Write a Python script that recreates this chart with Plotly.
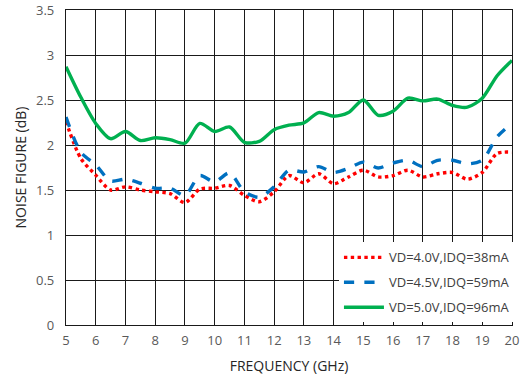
import plotly.graph_objects as go

freq = [5, 5.5, 6, 6.5, 7, 7.5, 8, 8.5, 9, 9.5, 10, 10.5, 11, 11.5, 12, 12.5, 13, 13.5, 14, 14.5, 15,
        15.5, 16, 16.5, 17, 17.5, 18, 18.5, 19, 19.5, 20]

nf_40 = [2.26, 1.85, 1.665, 1.50, 1.535, 1.50, 1.48, 1.46, 1.36, 1.51, 1.52, 1.55, 1.44, 1.37, 1.48, 1.66,
         1.58, 1.68, 1.57, 1.645, 1.72, 1.645, 1.66, 1.72, 1.645, 1.68, 1.695, 1.62, 1.695, 1.905, 1.92]
nf_45 = [2.31, 1.92, 1.78, 1.60, 1.62, 1.575, 1.52, 1.52, 1.44, 1.66, 1.59, 1.69, 1.48, 1.42, 1.535, 1.72,
         1.70, 1.76, 1.695, 1.74, 1.81, 1.745, 1.80, 1.83, 1.76, 1.83, 1.83, 1.79, 1.83, 2.09, 2.24]
nf_50 = [2.87, 2.53, 2.24, 2.07, 2.15, 2.05, 2.08, 2.06, 2.02, 2.24, 2.15, 2.20, 2.03, 2.04, 2.17, 2.22,
         2.245, 2.36, 2.32, 2.36, 2.50, 2.33, 2.375, 2.52, 2.49, 2.51, 2.44, 2.42, 2.52, 2.77, 2.94]

names = ["VD=4.0V,IDQ=38mA", "VD=4.5V,IDQ=59mA", "VD=5.0V,IDQ=96mA"]
colors = ["#ff0000", "#0070c0", "#00b050"]
dashes = ["dot", "dash", "solid"]
series = [nf_40, nf_45, nf_50]

fig = go.Figure()
for i, (name, vals, c, d) in enumerate(zip(names, series, colors, dashes)):
    fig.add_trace(go.Scatter(
        x=freq, y=vals, mode="lines", name=name, legendgroup=f"g{i}",
        line=dict(color=c, width=3.4, dash=d, shape="spline", smoothing=0.8),
    ))

font = "Open Sans, DejaVu Sans, sans-serif"
fig.update_layout(
    width=521, height=375,
    margin=dict(l=66, r=6, t=10, b=50),
    paper_bgcolor="white", plot_bgcolor="white",
    font=dict(family=font, size=13, color="#595959"),
    showlegend=True,
    legend=dict(
        x=0.612, y=0.262, xanchor="left", yanchor="top",
        bgcolor="white", borderwidth=0,
        font=dict(size=13, color="#404040"),
        itemwidth=40, tracegroupgap=5,
    ),
    xaxis=dict(
        range=[5, 20], dtick=1, tick0=5, automargin=False,
        showgrid=True, gridcolor="#1a1a1a", gridwidth=1.3,
        showline=True, linecolor="#1a1a1a", linewidth=1.3, mirror=True,
        zeroline=False, ticks="", ticklabelstandoff=3,
        title=dict(text="FREQUENCY (GHz)", font=dict(size=14, color="#262626"), standoff=13),
        tickfont=dict(size=13, color="#595959"),
    ),
    yaxis=dict(
        range=[0, 3.5], dtick=0.5, tick0=0, automargin=False,
        showgrid=True, gridcolor="#1a1a1a", gridwidth=1.3,
        showline=True, linecolor="#1a1a1a", linewidth=1.3, mirror=True,
        zeroline=False, ticks="", ticklabelstandoff=8,
        title=dict(text="NOISE FIGURE (dB)", font=dict(size=14, color="#262626"), standoff=6),
        tickfont=dict(size=13, color="#595959"),
    ),
)

fig.write_html("out.html")
